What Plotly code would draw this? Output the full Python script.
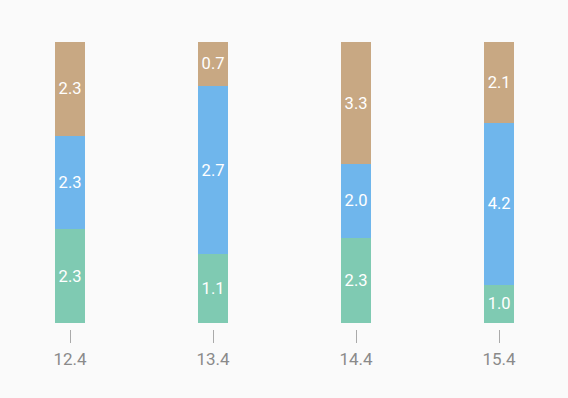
import plotly.graph_objects as go

categories = ["12.4", "13.4", "14.4", "15.4"]
series_green = [2.3, 1.1, 2.3, 1.0]
series_blue = [2.3, 2.7, 2.0, 4.2]
series_tan = [2.3, 0.7, 3.3, 2.1]

colors = ["#7fcab2", "#6fb6ec", "#c8a883"]
all_series = [series_green, series_blue, series_tan]

totals = [sum(v) for v in zip(*all_series)]
xpos = list(range(len(categories)))

fig = go.Figure()
for vals, col in zip(all_series, colors):
    pct = [v / t * 100 for v, t in zip(vals, totals)]
    fig.add_trace(go.Bar(
        x=xpos, y=pct, width=0.21,
        marker=dict(color=col, line=dict(width=0)),
        text=[f"{v:.1f}" for v in vals],
        textposition="inside", insidetextanchor="middle",
        textfont=dict(color="white", size=16.5, family="Roboto"),
        hoverinfo="skip",
    ))

fig.update_layout(
    barmode="stack",
    width=568, height=398,
    margin=dict(l=20, r=20, t=42, b=69),
    paper_bgcolor="#fafafa", plot_bgcolor="#fafafa",
    showlegend=False,
    uniformtext=dict(mode="show", minsize=16.5),
    xaxis=dict(
        tickmode="array", tickvals=xpos, ticktext=categories,
        range=[-0.35, 3.342],
        showgrid=False, zeroline=False, showline=False,
        ticks="outside", ticklen=13, tickwidth=1, tickcolor="#aaaaaa",
        ticklabelstandoff=2,
        tickfont=dict(size=17, color="#8a8a8a", family="Roboto"),
    ),
    yaxis=dict(
        range=[-2.14, 100], visible=False, showgrid=False, zeroline=False,
    ),
)

fig.write_html(
    "out.html",
    config={"displayModeBar": False},
    post_script="document.body.style.margin='0';document.body.style.background='#fafafa';",
)
